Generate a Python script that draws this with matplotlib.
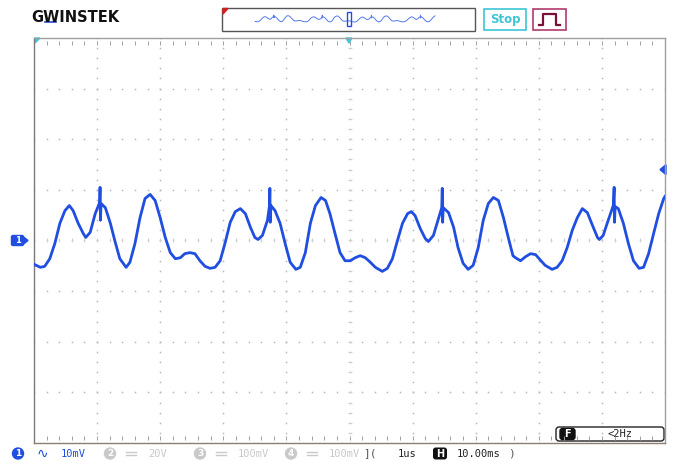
import numpy as np
import matplotlib
matplotlib.use("Agg")
import matplotlib.pyplot as plt
from matplotlib.patches import Rectangle, FancyBboxPatch, Circle, Polygon

# ---------------- data (time in ms from left edge, CH1 in mV) ----------------
time_ms = [0.0, 1.0, 1.7, 2.5, 3.3, 4.1, 4.9, 5.6, 6.2, 7.0, 7.8, 8.2, 8.9, 9.7,
           10.40, 10.47, 10.53, 10.63, 11.3, 12.1, 12.8, 13.6, 14.6, 15.2, 16.0,
           16.8, 17.6, 18.4, 19.2, 20.0, 20.8, 21.6, 22.4, 23.2, 23.9, 24.7, 25.5,
           26.3, 27.1, 27.9, 28.7, 29.5, 30.3, 31.1, 31.9, 32.7, 33.5, 34.3, 35.0,
           35.5, 36.2, 37.0, 37.30, 37.38, 37.44, 37.55, 38.2, 39.0, 39.8, 40.6,
           41.5, 42.2, 43.0, 43.8, 44.6, 45.5, 46.2, 46.9, 47.7, 48.5, 49.3, 50.1,
           50.9, 51.7, 52.5, 53.3, 54.1, 55.2, 56.0, 56.8, 57.6, 58.4, 59.2, 59.8,
           60.4, 61.2, 62.0, 62.5, 63.3, 64.1, 64.62, 64.70, 64.76, 64.85, 65.7,
           66.5, 67.2, 68.0, 68.8, 69.6, 70.4, 71.2, 72.0, 72.8, 73.6, 74.4, 75.2,
           75.9, 76.3, 77.1, 77.9, 78.7, 79.5, 80.2, 81.0, 82.1, 82.9, 83.7, 84.5,
           85.3, 86.1, 86.9, 87.7, 88.5, 89.3, 89.6, 90.2, 91.0, 91.8, 91.94,
           92.00, 92.10, 92.6, 93.4, 94.2, 95.0, 95.9, 96.6, 97.4, 98.2, 99.0,
           99.8, 100.0]
ch1_mv = [-4.7, -5.3, -5.1, -3.6, -0.6, 3.4, 5.9, 6.9, 5.9, 3.4, 1.4, 0.6, 1.6, 5.3,
          7.5, 10.5, 4.0, 7.3, 6.5, 3.4, 0.0, -3.6, -5.3, -4.3, -0.6,
          4.5, 8.3, 9.1, 7.9, 4.5, 0.6, -2.4, -3.6, -3.4, -2.6, -2.4, -2.6,
          -4.0, -5.1, -5.5, -5.3, -4.0, -0.4, 3.6, 5.7, 6.3, 5.3, 2.6, 0.6,
          0.2, 1.0, 4.0, 6.7, 10.3, 3.6, 6.9, 5.9, 3.4, -0.6, -4.3,
          -5.7, -5.3, -2.4, 3.4, 6.9, 8.5, 7.9, 5.3, 1.4, -2.4, -4.0, -4.0,
          -3.4, -3.0, -3.4, -4.3, -5.3, -6.1, -5.5, -3.6, 0.0, 3.4, 5.3, 5.7,
          4.9, 2.4, 0.4, -0.2, 1.0, 4.3, 6.5, 10.3, 3.6, 6.5, 5.5,
          2.6, -1.4, -4.5, -5.7, -4.9, -1.4, 4.0, 7.3, 8.5, 7.9, 4.5, 0.4,
          -3.0, -3.4, -4.0, -3.2, -2.6, -2.8, -3.8, -4.9, -5.7, -5.3, -4.0, -1.4,
          2.0, 4.5, 6.3, 5.5, 3.0, 0.6, 0.2, 1.0, 4.0, 6.9, 10.5,
          3.6, 6.7, 6.3, 3.4, -0.6, -4.0, -5.5, -5.3, -2.6, 1.4, 5.3,
          8.3, 8.7]

ch_labels = ["10mV", "20V", "100mV", "100mV"]
trig_source_label = "1us"
timebase_label = "10.00ms"
freq_label = "<2Hz"
status_label = "Stop"
brand_label = "GWINSTEK"
trigger_level_mv = 14.0

W, H = 676, 461
BLUE = "#1f4ee0"
GRID = "#b8b8b8"
FAINT = "#c9c9c9"
MONO = "DejaVu Sans Mono"

fig = plt.figure(figsize=(W / 100, H / 100), dpi=100)
fig.patch.set_facecolor("white")

# overlay axes in pixel coordinates (y down)
ov = fig.add_axes([0, 0, 1, 1])
ov.set_xlim(0, W)
ov.set_ylim(H, 0)
ov.axis("off")

# main scope screen
L, T, R, B = 34, 38, 665, 443
ax = fig.add_axes([L / W, (H - B) / H, (R - L) / W, (B - T) / H])
ax.set_xlim(0, 100)
ax.set_ylim(-40, 40)
ax.patch.set_alpha(0)
ax.set_xticks([])
ax.set_yticks([])
for s in ax.spines.values():
    s.set_color("#a0a0a0")
    s.set_linewidth(1.0)
ax.spines["left"].set_color("#7a7a7a")
ax.spines["bottom"].set_color("#8a7f70")

# dotted graticule
xs_dots = np.arange(0, 100.01, 2)
ys_dots = np.arange(-40, 40.01, 2)
for gx in range(10, 100, 10):
    ax.plot(np.full_like(ys_dots, gx), ys_dots, ls="none", marker="s", ms=1.1,
            color=GRID, mec="none")
for gy in range(-30, 40, 10):
    ax.plot(xs_dots, np.full_like(xs_dots, gy), ls="none", marker="s", ms=1.1,
            color=GRID, mec="none")
# small ticks on centre lines and borders
tick_x = np.arange(2, 100, 2)
tick_y = np.arange(-38, 40, 2)
ax.plot(tick_x, np.zeros_like(tick_x), ls="none", marker="|", ms=3, mew=0.7, color="#cfcfcf")
ax.plot(np.full_like(tick_y, 50), tick_y, ls="none", marker="_", ms=3, mew=0.7, color="#cfcfcf")
ax.plot(tick_x, np.full_like(tick_x, 39.5), ls="none", marker="|", ms=2.5, mew=0.7, color="#a0a0a0")
ax.plot(tick_x, np.full_like(tick_x, -39.5), ls="none", marker="|", ms=2.5, mew=0.7, color="#a0a0a0")

# waveform
ax.plot(time_ms, ch1_mv, color=BLUE, lw=2.0, solid_joinstyle="round", zorder=5)

# ---------------- header ----------------
ov.text(31, 17, brand_label, fontsize=10.5, fontweight="bold", color="#111111",
        va="center", ha="left", family="DejaVu Sans")
ov.plot([45, 56], [22.5, 22.5], color=BLUE, lw=1.2)

ov.add_patch(Rectangle((222, 8), 253, 23, fill=False, ec="#555555", lw=1))
ov.add_patch(Polygon([[223, 8.5], [228, 8.5], [223, 14]], color="#d02020"))
# memory overview: compressed waveform
ov.plot(255 + np.asarray(time_ms) * 1.8, 19.5 - np.asarray(ch1_mv) * 0.42,
        color=BLUE, lw=0.7, alpha=0.75)
ov.add_patch(Rectangle((347, 12), 4, 14, fill=False, ec=BLUE, lw=1.0))

ov.add_patch(Rectangle((484, 9), 42, 21, fill=False, ec="#3cc6d6", lw=1.2))
ov.text(505, 19.5, status_label, fontsize=8.5, fontweight="bold", color="#3cc6d6",
        ha="center", va="center")
ov.add_patch(Rectangle((533, 9), 33, 21, fill=False, ec="#b03a6e", lw=1.2))
ov.plot([539, 543, 543, 556, 556, 560], [25, 25, 14, 14, 25, 25], color="#7a1038", lw=1.6)

# screen markers
ov.add_patch(Polygon([[346, 38], [352, 38], [349, 43]], color="#3cc6d6"))
ov.add_patch(Polygon([[35, 38], [40, 38], [35, 43]], color="#3cc6d6"))
y_trig = T + (40 - trigger_level_mv) / 80 * (B - T)
ov.add_patch(Polygon([[666, y_trig - 5], [666, y_trig + 5], [660, y_trig]], color=BLUE))
y0 = T + (B - T) / 2
ov.add_patch(FancyBboxPatch((12, y0 - 4.5), 11, 9, boxstyle="round,pad=0.5,rounding_size=1.5",
                            color=BLUE))
ov.add_patch(Polygon([[23, y0 - 4], [23, y0 + 4], [28, y0]], color=BLUE))
ov.text(18, y0 + 0.3, "1", color="white", fontsize=6, fontweight="bold",
        ha="center", va="center")

# ---------------- status bar ----------------
ys = 453.5
ov.add_patch(Circle((18, ys), 5.5, color=BLUE))
ov.text(18, ys + 0.3, "1", color="white", fontsize=6.5, fontweight="bold", ha="center", va="center")
ov.text(42, ys, "\u223f", color=BLUE, fontsize=10, ha="center", va="center", family="DejaVu Sans")
ov.text(61, ys, ch_labels[0], color=BLUE, fontsize=7.5, ha="left", va="center", family=MONO)

for cx, num, lab in [(110, "2", ch_labels[1]), (200, "3", ch_labels[2]), (291, "4", ch_labels[3])]:
    ov.add_patch(Circle((cx, ys), 5.5, color=FAINT))
    ov.text(cx, ys + 0.3, num, color="white", fontsize=6.5, fontweight="bold", ha="center", va="center")
    ov.plot([cx + 16, cx + 26], [ys - 1.5, ys - 1.5], color=FAINT, lw=1)
    ov.plot([cx + 16, cx + 26], [ys + 1.5, ys + 1.5], color=FAINT, lw=1)
    ov.text(cx + 38, ys, lab, color=FAINT, fontsize=7.5, ha="left", va="center", family=MONO)

ov.text(363, ys, "](", color="#555555", fontsize=8, ha="left", va="center", family=MONO)
ov.text(398, ys, trig_source_label, color="#222222", fontsize=7.5, ha="left", va="center", family=MONO)
ov.add_patch(FancyBboxPatch((434, ys - 5), 12, 10, boxstyle="round,pad=0.3,rounding_size=2",
                            color="#111111"))
ov.text(440, ys + 0.3, "H", color="white", fontsize=7, fontweight="bold", ha="center", va="center")
ov.text(457, ys, timebase_label, color="#222222", fontsize=7.5, ha="left", va="center", family=MONO)
ov.text(508, ys, ")", color="#555555", fontsize=8, ha="left", va="center", family=MONO)

ov.add_patch(FancyBboxPatch((556, 427), 108, 14, boxstyle="round,pad=0,rounding_size=3",
                            fill=False, ec="#222222", lw=1.0))
ov.add_patch(FancyBboxPatch((560, 428.5), 15, 11, boxstyle="round,pad=0,rounding_size=2.5",
                            color="#111111"))
ov.text(567.5, 434.3, "F", color="white", fontsize=7, fontweight="bold", ha="center", va="center")
ov.text(608, 434, freq_label, color="#222222", fontsize=7.5, ha="left", va="center", family=MONO)

fig.savefig("out.png", dpi=100, facecolor="white")
